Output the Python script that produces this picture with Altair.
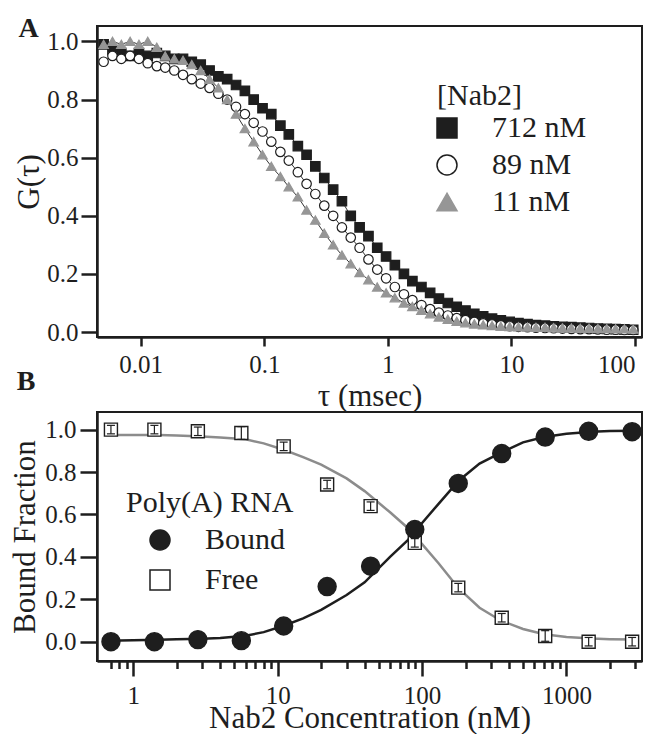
import altair as alt
import pandas as pd

# ---------------- Panel A data (FCS autocorrelation) ----------------
tau = [0.00501, 0.00591, 0.00697, 0.00821, 0.00968, 0.0114, 0.0135, 0.0158, 0.0187, 0.0220,
       0.0259, 0.0306, 0.0361, 0.0425, 0.0501, 0.0591, 0.0697, 0.0821, 0.0968, 0.114,
       0.135, 0.158, 0.187, 0.220, 0.259, 0.306, 0.361, 0.425, 0.501, 0.591,
       0.697, 0.821, 0.968, 1.14, 1.35, 1.58, 1.87, 2.20, 2.59, 3.06,
       3.61, 4.25, 5.01, 5.91, 6.97, 8.21, 9.68, 11.4, 13.5, 15.8,
       18.7, 22.0, 25.9, 30.6, 36.1, 42.5, 50.1, 59.1, 69.7, 82.1, 96.8]

g_712 = [0.99, 0.97, 0.96, 0.95, 0.96, 0.95, 0.96, 0.95, 0.94, 0.94,
         0.93, 0.92, 0.90, 0.88, 0.87, 0.85, 0.83, 0.80, 0.77, 0.75,
         0.71, 0.68, 0.64, 0.61, 0.57, 0.53, 0.49, 0.45, 0.40, 0.36,
         0.33, 0.29, 0.26, 0.23, 0.20, 0.175, 0.155, 0.135, 0.115, 0.10,
         0.087, 0.074, 0.063, 0.054, 0.046, 0.040, 0.035, 0.031, 0.027, 0.024,
         0.022, 0.020, 0.018, 0.017, 0.015, 0.014, 0.012, 0.011, 0.010, 0.009, 0.008]

g_89 = [0.93, 0.95, 0.94, 0.95, 0.94, 0.925, 0.915, 0.91, 0.90, 0.885,
        0.87, 0.855, 0.84, 0.82, 0.80, 0.775, 0.75, 0.72, 0.69, 0.655,
        0.62, 0.59, 0.55, 0.51, 0.475, 0.435, 0.40, 0.36, 0.325, 0.29,
        0.25, 0.215, 0.185, 0.155, 0.13, 0.11, 0.093, 0.079, 0.067, 0.057,
        0.048, 0.041, 0.035, 0.030, 0.026, 0.023, 0.020, 0.018, 0.017, 0.015,
        0.014, 0.013, 0.012, 0.011, 0.010, 0.010, 0.009, 0.008, 0.008, 0.007, 0.007]

g_11 = [0.99, 1.00, 0.99, 1.00, 0.99, 1.00, 0.98, 0.95, 0.94, 0.935,
        0.92, 0.90, 0.87, 0.84, 0.80, 0.75, 0.70, 0.655, 0.61, 0.57,
        0.535, 0.50, 0.465, 0.42, 0.385, 0.34, 0.30, 0.265, 0.235, 0.205,
        0.18, 0.155, 0.135, 0.118, 0.10, 0.088, 0.075, 0.063, 0.052, 0.044,
        0.037, 0.032, 0.028, 0.025, 0.022, 0.020, 0.019, 0.018, 0.017, 0.016,
        0.016, 0.015, 0.014, 0.014, 0.013, 0.013, 0.012, 0.012, 0.011, 0.011, 0.010]

series_a = ["712 nM", "89 nM", "11 nM"]

# ---------------- Panel B data (binding) ----------------
conc = [0.7, 1.4, 2.8, 5.6, 11, 22, 44, 89, 178, 356, 712, 1424, 2848]
bound = [0.0, 0.0, 0.01, 0.005, 0.074, 0.26, 0.356, 0.529, 0.746, 0.887, 0.965, 0.992, 0.99]
free = [1.0, 1.0, 0.992, 0.984, 0.921, 0.741, 0.639, 0.466, 0.255, 0.113, 0.027, 0.0, 0.0]
free_err = [0.02, 0.02, 0.02, 0.03, 0.02, 0.02, 0.02, 0.02, 0.02, 0.02, 0.025, 0.02, 0.02]

fit_conc = [0.65, 1, 1.5, 2, 3, 4, 6, 8, 11, 15, 20, 30, 40, 60, 80, 100, 130, 180,
            250, 350, 500, 700, 1000, 1500, 2000, 3000]
bound_fit = [0.005, 0.007, 0.009, 0.011, 0.014, 0.018, 0.028, 0.045, 0.075, 0.11, 0.15,
             0.22, 0.28, 0.40, 0.48, 0.56, 0.65, 0.76, 0.84, 0.89, 0.94, 0.965, 0.98,
             0.99, 0.993, 0.995]
free_fit = [0.975, 0.975, 0.974, 0.972, 0.968, 0.963, 0.954, 0.935, 0.905, 0.87, 0.835,
            0.77, 0.71, 0.61, 0.535, 0.46, 0.37, 0.25, 0.16, 0.10, 0.06, 0.035, 0.022,
            0.015, 0.012, 0.010]

series_b = ["Bound", "Free"]

major_b = [1, 10, 100, 1000]
minor_b = [0.7, 0.8, 0.9, 2, 3, 4, 5, 6, 7, 8, 9, 20, 30, 40, 50, 60, 70, 80, 90,
           200, 300, 400, 500, 600, 700, 800, 900, 2000, 3000]
major_a = [0.01, 0.1, 1, 10, 100]
yticks = [0.0, 0.2, 0.4, 0.6, 0.8, 1.0]

FONT = "Liberation Serif"
BLACK = "#1e1e1e"
GRAY = "#969696"

# ---------------- Panel A ----------------
dfA = pd.DataFrame({
    "tau": tau * 3,
    "G": g_712 + g_89 + g_11,
    "nab2": [series_a[0]] * len(tau) + [series_a[1]] * len(tau) + [series_a[2]] * len(tau),
})

xA = alt.X("tau:Q", scale=alt.Scale(type="log", domain=[0.00443, 114], nice=False),
           axis=alt.Axis(values=major_a, format="~g", tickSize=9, labelPadding=6,
                         title="τ (msec)", titlePadding=4, labelFlush=20))
yA = alt.Y("G:Q", scale=alt.Scale(domain=[-0.017, 1.053], nice=False, zero=False),
           axis=alt.Axis(values=yticks, format=".1f", tickSize=16, labelPadding=3,
                         title="G(τ)", titlePadding=1))

legA = alt.Legend(orient="none", legendX=340, legendY=55, title="[Nab2]",
                  titleFontSize=30, titleFont=FONT, titleFontWeight="normal",
                  titleColor=BLACK, labelFontSize=30, labelFont=FONT, labelColor=BLACK,
                  symbolSize=400, symbolStrokeWidth=1.5, labelOffset=30, symbolOffset=-5,
                  rowPadding=7, titlePadding=2, padding=0)

linesA = alt.Chart(dfA).mark_line(strokeWidth=1, color="#333333").encode(
    x=xA, y=yA, detail="nab2:N")

pointsA = alt.Chart(dfA).mark_point(size=90, strokeWidth=1.2, opacity=1).encode(
    x=xA, y=yA,
    fill=alt.Fill("nab2:N", scale=alt.Scale(domain=series_a, range=[BLACK, "#ffffff", GRAY]), legend=legA),
    stroke=alt.Stroke("nab2:N", scale=alt.Scale(domain=series_a, range=[BLACK, BLACK, GRAY]), legend=legA),
    shape=alt.Shape("nab2:N", scale=alt.Scale(domain=series_a, range=["square", "circle", "triangle-up"]), legend=legA),
)

labelA = alt.Chart(pd.DataFrame({"t": ["A"]})).mark_text(
    font=FONT, fontSize=28, fontWeight="bold", align="center", baseline="alphabetic", color=BLACK
).encode(x=alt.value(-68.5), y=alt.value(11), text="t:N")
labelB = alt.Chart(pd.DataFrame({"t": ["B"]})).mark_text(
    font=FONT, fontSize=28, fontWeight="bold", align="center", baseline="alphabetic", color=BLACK
).encode(x=alt.value(-71), y=alt.value(364), text="t:N")

panelA = alt.layer(linesA, pointsA, labelA, labelB).properties(width=545, height=311)

# ---------------- Panel B ----------------
dfBound = pd.DataFrame({"conc": conc, "frac": bound, "rna": [series_b[0]] * len(conc)})
dfFree = pd.DataFrame({"conc": conc, "frac": free, "rna": [series_b[1]] * len(conc)})
dfErr = pd.DataFrame({
    "conc": conc,
    "lo": [f - e for f, e in zip(free, free_err)],
    "hi": [f + e for f, e in zip(free, free_err)],
})
dfFitBound = pd.DataFrame({"conc": fit_conc, "frac": bound_fit})
dfFitFree = pd.DataFrame({"conc": fit_conc, "frac": free_fit})

xscaleB = alt.Scale(type="log", domain=[0.5605, 3334], nice=False)
yscaleB = alt.Scale(domain=[-0.091, 1.083], nice=False, zero=False)
yaxisB = alt.Axis(values=yticks, format=".1f", tickSize=17, labelPadding=4,
                  title="Bound Fraction", titlePadding=3)

xmajB = alt.Axis(values=major_b, format="~g", tickSize=15, labelPadding=7,
                 title="Nab2 Concentration (nM)", titlePadding=-5, titleFontSize=31,
                 labelFlush=False, orient="bottom")
xminB = alt.Axis(values=minor_b, tickSize=7.5, labels=False, domain=False, title=None,
                 orient="bottom")

fitFreeLine = alt.Chart(dfFitFree).mark_line(strokeWidth=2.5, color="#8c8c8c").encode(
    x=alt.X("conc:Q", scale=xscaleB, axis=xmajB),
    y=alt.Y("frac:Q", scale=yscaleB, axis=yaxisB),
)
fitBoundLine = alt.Chart(dfFitBound).mark_line(strokeWidth=2.5, color=BLACK).encode(
    x=alt.X("conc:Q", scale=xscaleB, axis=None),
    y=alt.Y("frac:Q", scale=yscaleB, axis=yaxisB),
)

legB = alt.Legend(orient="none", legendX=29, legendY=76, title="Poly(A) RNA",
                  titleFontSize=30, titleFont=FONT, titleFontWeight="normal",
                  titleColor=BLACK, labelFontSize=30, labelFont=FONT, labelColor=BLACK,
                  symbolSize=400, symbolStrokeWidth=1.5, labelOffset=30, symbolOffset=19,
                  rowPadding=10, titlePadding=7, padding=0)

fillB = alt.Scale(domain=series_b, range=[BLACK, "#ffffff"])
strokeB = alt.Scale(domain=series_b, range=[BLACK, BLACK])
shapeB = alt.Scale(domain=series_b, range=["circle", "square"])


def rna_points(df, size):
    return alt.Chart(df).mark_point(size=size, strokeWidth=1.4, opacity=1).encode(
        x=alt.X("conc:Q", scale=xscaleB, axis=None),
        y=alt.Y("frac:Q", scale=yscaleB, axis=yaxisB),
        fill=alt.Fill("rna:N", scale=fillB, legend=legB),
        stroke=alt.Stroke("rna:N", scale=strokeB, legend=legB),
        shape=alt.Shape("rna:N", scale=shapeB, legend=legB),
    )


freePts = rna_points(dfFree, 169)
boundPts = rna_points(dfBound, 324)

errRule = alt.Chart(dfErr).mark_rule(strokeWidth=1.2, color=BLACK).encode(
    x=alt.X("conc:Q", scale=xscaleB, axis=None),
    y=alt.Y("lo:Q", scale=yscaleB, axis=yaxisB),
    y2="hi:Q",
)
capLo = alt.Chart(dfErr).mark_tick(orient="horizontal", size=8, thickness=1.2, color=BLACK, opacity=1).encode(
    x=alt.X("conc:Q", scale=xscaleB, axis=None),
    y=alt.Y("lo:Q", scale=yscaleB, axis=yaxisB),
)
capHi = alt.Chart(dfErr).mark_tick(orient="horizontal", size=8, thickness=1.2, color=BLACK, opacity=1).encode(
    x=alt.X("conc:Q", scale=xscaleB, axis=None),
    y=alt.Y("hi:Q", scale=yscaleB, axis=yaxisB),
)

minorB = alt.Chart(dfFitFree).mark_point(opacity=0).encode(
    x=alt.X("conc:Q", scale=xscaleB, axis=xminB),
    y=alt.Y("frac:Q", scale=yscaleB, axis=yaxisB),
)

panelB = alt.layer(fitFreeLine, fitBoundLine, freePts, errRule, capLo, capHi, boundPts,
                   minorB).resolve_axis(x="independent").properties(width=545, height=249)

chart = alt.vconcat(panelA, panelB, spacing=-1).resolve_scale(
    fill="independent", stroke="independent", shape="independent"
).properties(
    padding={"left": 0, "top": 6, "right": 0, "bottom": 0}
).configure(font=FONT).configure_view(
    stroke=BLACK, strokeWidth=2
).configure_axis(
    domainColor=BLACK, domainWidth=2.5, tickColor=BLACK, tickWidth=2.5,
    labelColor=BLACK, titleColor=BLACK, labelFont=FONT, titleFont=FONT,
    titleFontWeight="normal", grid=False, labelFontSize=25, titleFontSize=31
)

chart.save("out.html", embed_options={"renderer": "svg", "actions": False})
